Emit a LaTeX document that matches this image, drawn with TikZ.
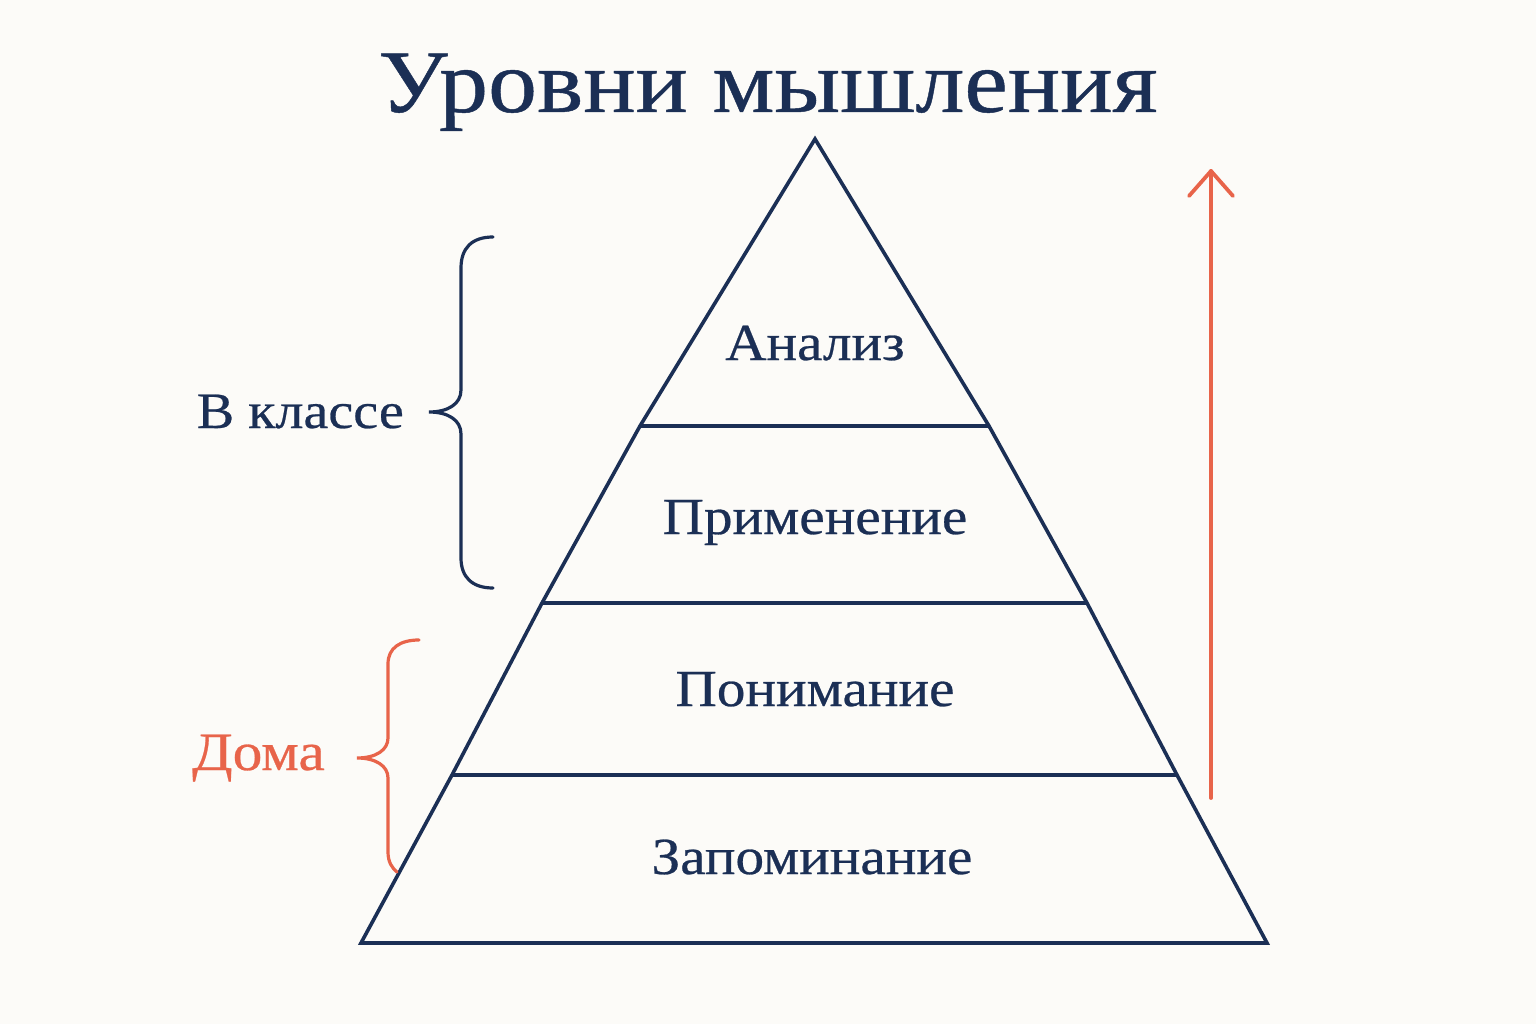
\documentclass[tikz,border=0pt]{standalone}
\usepackage{fontspec}
\setmainfont{Liberation Serif}
\newfontfamily\widefont[FakeStretch=1.1,FakeBold=0.5]{Liberation Serif}
\usetikzlibrary{calc}
\definecolor{navy}{HTML}{1B2F55}
\definecolor{accent}{HTML}{E8644A}
\definecolor{paper}{HTML}{FCFBF8}
\begin{document}
\begin{tikzpicture}[x=1pt,y=-1pt,
  edge/.style={draw=navy,line width=3.6pt,line join=miter},
  layer/.style={navy,font=\widefont\fontsize{52}{56}\selectfont,anchor=base,inner sep=0pt},
  bracedark/.style={draw=navy,line width=3.2pt,line cap=round},
  braceacc/.style={draw=accent,line width=3.2pt,line cap=round},
  uparrow/.style={draw=accent,line width=3.8pt,line cap=round,line join=round}]
\fill[paper] (0,0) rectangle (1536,1024);
\useasboundingbox (0,0) rectangle (1536,1024);
% title
\node[navy,anchor=base,inner sep=0pt,font=\widefont\fontsize{89}{96}\selectfont] (title) at (768,112) {Уровни мышления};
% pyramid
\coordinate (apex) at (815,139);
\coordinate (pbl) at (361,943);
\coordinate (pbr) at (1267,943);
\coordinate (saL) at (640,426); \coordinate (saR) at (989,426);
\coordinate (sbL) at (542,603); \coordinate (sbR) at (1087,603);
\coordinate (scL) at (452,775); \coordinate (scR) at (1177,775);
\draw[edge] (apex) -- (saL) -- (sbL) -- (scL) -- (pbl) -- (pbr) -- (scR) -- (sbR) -- (saR) -- cycle;
\draw[edge] (saL) -- (saR);
\draw[edge] (sbL) -- (sbR);
\draw[edge] (scL) -- (scR);
\node[layer] (l4) at (815,360) {Анализ};
\node[layer] (l3) at (815,534) {Применение};
\node[layer] (l2) at (815,706) {Понимание};
\node[layer] (l1) at (812,874) {Запоминание};
% class brace
\coordinate (cbtop) at (493,237);
\coordinate (cbtip) at (429,412);
\coordinate (cbbot) at (493,588);
\draw[bracedark] (cbtop) .. controls (472,237) and (461,248) .. (461,268) -- (461,390)
  .. controls (461,404) and (448,412) .. (cbtip)
  .. controls (448,412) and (461,420) .. (461,434) -- (461,558)
  .. controls (461,577) and (472,588) .. (cbbot);
\node[navy,anchor=base east,inner sep=0pt,font=\widefont\fontsize{51}{56}\selectfont] (klass) at (404,428) {В классе};
% home brace
\coordinate (hbtop) at (419,640);
\coordinate (hbtip) at (357,758);
\coordinate (hbbot) at (397,872);
\draw[braceacc] (hbtop) .. controls (400,640) and (388,648) .. (388,664) -- (388,738)
  .. controls (388,750) and (376,758) .. (hbtip)
  .. controls (376,758) and (388,766) .. (388,778) -- (388,852)
  .. controls (388,862) and (392,868) .. (hbbot);
\node[accent,anchor=base east,inner sep=0pt,font=\widefont\fontsize{54}{60}\selectfont] (doma) at (325,770) {Дома};
% arrow
\coordinate (arrbot) at (1211,798);
\coordinate (arrtop) at (1211,171);
\draw[uparrow] (arrbot) -- (arrtop);
\draw[uparrow] (1189,196) -- (arrtop) -- (1233,196);
\end{tikzpicture}
\end{document}
